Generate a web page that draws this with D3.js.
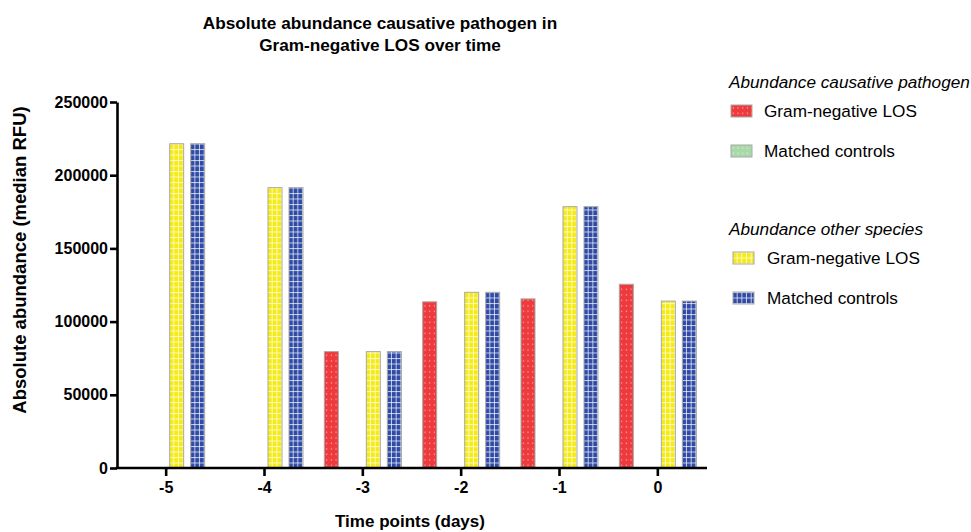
<!DOCTYPE html>
<html>
<head>
<meta charset="utf-8">
<script src="https://cdn.jsdelivr.net/npm/d3@7"></script>
<style>
  body { margin: 0; background: #fff; }
  text { font-family: "Liberation Sans", Arial, sans-serif; }
</style>
</head>
<body>
<script>
// time points (days)
var timePoints = ["-5", "-4", "-3", "-2", "-1", "0"];

// abundance causative pathogen
var causativeLOS = [null, null, 79500, 113500, 115500, 125500];
var causativeControls = [null, null, null, null, null, null];

// abundance other species
var otherLOS = [221500, 191500, 79500, 120000, 178500, 114000];
var otherControls = [221500, 191500, 79500, 120000, 178500, 114000];

var yTicks = [0, 50000, 100000, 150000, 200000, 250000];

var seriesKeys = ["causLOS", "causCtrl", "otherLOS", "otherCtrl"];
var seriesValues = [causativeLOS, causativeControls, otherLOS, otherControls];
var seriesFill = ["url(#dotRed)", "url(#dotGreen)", "url(#gridYellow)", "url(#gridBlue)"];

var w = 971, h = 532;

var svg = d3.select("body").append("svg")
  .attr("width", w)
  .attr("height", h);

// patterns for the bars
var defs = svg.append("defs");

function dotPattern(id, color) {
  var p = defs.append("pattern")
    .attr("id", id)
    .attr("patternUnits", "userSpaceOnUse")
    .attr("width", 14 / 3)
    .attr("height", 5.5);
  p.append("rect").attr("width", 14 / 3).attr("height", 5.5).attr("fill", color);
  p.append("rect").attr("x", 1.8).attr("y", 2.3).attr("width", 1.1).attr("height", 1.1)
    .attr("fill", "#fff").attr("opacity", 0.75);
}

function gridPattern(id, color) {
  var p = defs.append("pattern")
    .attr("id", id)
    .attr("patternUnits", "userSpaceOnUse")
    .attr("width", 14 / 3)
    .attr("height", 5.5);
  p.append("rect").attr("width", 14 / 3).attr("height", 5.5).attr("fill", color);
  p.append("rect").attr("x", 14 / 3 - 1).attr("y", 0).attr("width", 1).attr("height", 5.5)
    .attr("fill", "#fff").attr("opacity", 0.7);
  p.append("rect").attr("x", 0).attr("y", 0).attr("width", 14 / 3).attr("height", 1)
    .attr("fill", "#fff").attr("opacity", 0.7);
}

dotPattern("dotRed", "#ee3a3d");
dotPattern("dotGreen", "#a9d9a9");
gridPattern("gridYellow", "#f6ea14");
gridPattern("gridBlue", "#2f4aa6");

var plotLeft = 117, plotRight = 707, plotTop = 102, plotBottom = 468;

var xScale = d3.scaleBand()
  .domain(timePoints)
  .range([plotLeft, plotRight]);

var xInner = d3.scaleBand()
  .domain(seriesKeys)
  .range([-42, 42])
  .paddingInner(1 / 3)
  .paddingOuter(1 / 6);

var yScale = d3.scaleLinear()
  .domain([0, 250000])
  .range([plotBottom, plotTop]);

// bars
seriesKeys.forEach(function(key, s) {
  var vals = seriesValues[s];
  var data = timePoints.map(function(t, i) { return { t: t, v: vals[i] }; })
    .filter(function(d) { return d.v != null; });

  svg.selectAll("g.bar-" + key)
    .data(data)
    .enter()
    .append("g")
    .attr("class", "bar-" + key)
    .attr("transform", function(d) {
      return "translate(" + (xScale(d.t) + xScale.bandwidth() / 2 + xInner(key)) + "," + plotBottom + ")";
    })
    .append("rect")
    .attr("x", 0)
    .attr("y", function(d) { return yScale(d.v) - plotBottom; })
    .attr("width", xInner.bandwidth())
    .attr("height", function(d) { return plotBottom - yScale(d.v); })
    .attr("fill", seriesFill[s])
    .attr("stroke", "#a8a8a8")
    .attr("stroke-width", 1);
});

//Create Y axis
var yAxis = d3.axisLeft(yScale)
  .tickValues(yTicks)
  .tickFormat(d3.format("d"))
  .tickSizeInner(7)
  .tickSizeOuter(0);

var gy = svg.append("g")
  .attr("transform", "translate(" + plotLeft + ",0)")
  .call(yAxis);

gy.select(".domain").attr("stroke", "#000").attr("stroke-width", 2.6);
gy.selectAll(".tick line").attr("stroke", "#000").attr("stroke-width", 2.6);
gy.selectAll(".tick text")
  .attr("x", -9)
  .style("font-family", "'Liberation Sans', Arial, sans-serif")
  .style("font-size", "16px")
  .style("font-weight", "bold")
  .attr("fill", "#000");

//Create X axis
var xAxis = d3.axisBottom(xScale)
  .tickSizeInner(8)
  .tickSizeOuter(0);

var gx = svg.append("g")
  .attr("transform", "translate(0," + plotBottom + ")")
  .call(xAxis);

gx.select(".domain").attr("stroke", "#000").attr("stroke-width", 2.6)
  .attr("d", "M" + (plotLeft - 1.3) + ",0H" + plotRight);
gx.selectAll(".tick line").attr("stroke", "#000").attr("stroke-width", 2.6);
gx.selectAll(".tick text")
  .attr("y", 14)
  .style("font-family", "'Liberation Sans', Arial, sans-serif")
  .style("font-size", "16px")
  .style("font-weight", "bold")
  .attr("fill", "#000");

// title
var title = svg.append("text")
  .attr("text-anchor", "middle")
  .style("font-size", "17.2px")
  .style("font-weight", "bold");
title.append("tspan").attr("x", 380).attr("y", 29).text("Absolute abundance causative pathogen in");
title.append("tspan").attr("x", 380).attr("y", 51).text("Gram-negative LOS over time");

// axis labels
svg.append("text")
  .attr("text-anchor", "middle")
  .attr("x", 410)
  .attr("y", 527)
  .style("font-size", "17px")
  .style("font-weight", "bold")
  .text("Time points (days)");

svg.append("text")
  .attr("text-anchor", "middle")
  .attr("transform", "translate(26,260) rotate(-90)")
  .style("font-size", "18.5px")
  .style("font-weight", "bold")
  .text("Absolute abundance (median RFU)");

// legend
var legendGroups = [
  { title: "Abundance causative pathogen", y: 88, sx: 731, tx: 764,
    items: [{ label: "Gram-negative LOS", fill: seriesFill[0] }, { label: "Matched controls", fill: seriesFill[1] }] },
  { title: "Abundance other species", y: 235, sx: 733, tx: 767,
    items: [{ label: "Gram-negative LOS", fill: seriesFill[2] }, { label: "Matched controls", fill: seriesFill[3] }] }
];

legendGroups.forEach(function(g) {
  svg.append("text")
    .attr("x", 729)
    .attr("y", g.y)
    .style("font-size", "17.2px")
    .style("font-style", "italic")
    .text(g.title);

  g.items.forEach(function(it, i) {
    var yy = g.y + 23 + i * 40;
    svg.append("g")
      .attr("transform", "translate(" + g.sx + "," + (yy - 6) + ")")
      .append("rect")
      .attr("width", 21)
      .attr("height", 12)
      .attr("fill", it.fill)
      .attr("stroke", "#a8a8a8")
      .attr("stroke-width", 1);
    svg.append("text")
      .attr("x", g.tx)
      .attr("y", yy + 6)
      .style("font-size", "17.2px")
      .text(it.label);
  });
});
</script>
</body>
</html>
